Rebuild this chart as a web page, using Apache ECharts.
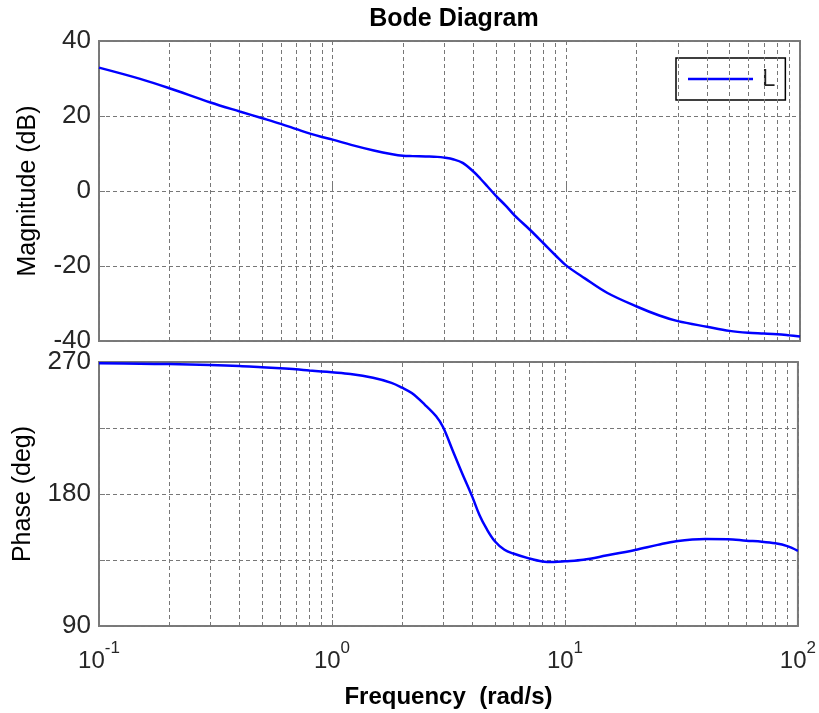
<!DOCTYPE html>
<html>
<head>
<meta charset="utf-8">
<title>Bode Diagram</title>
<script src="https://cdn.jsdelivr.net/npm/echarts@6/dist/echarts.min.js"></script>
<style>
  html, body { margin: 0; padding: 0; background: #ffffff; }
  #chart { width: 819px; height: 713px; }
</style>
</head>
<body>
<div id="chart"></div>
<script>
// Frequency samples (rad/s) shared by both traces
const freq = [0.1, 0.15, 0.2, 0.3, 0.4, 0.5, 0.6, 0.7, 0.8, 0.9,
              1, 1.2, 1.5, 1.8, 2, 2.2, 2.5, 2.8, 3, 3.3, 3.6,
              4, 4.3, 4.6, 5, 5.5, 6, 7, 8, 9,
              10, 12, 15, 20, 25, 30, 40, 50, 60, 70, 80, 90, 100];

// Open-loop magnitude L(jw) in dB
const magnitudeDb = [32.9, 29.9, 27.4, 23.6, 21.2, 19.4, 17.9, 16.5, 15.3, 14.4,
                     13.7, 12.3, 10.8, 9.8, 9.4, 9.3, 9.2, 9.1, 8.9, 8.4, 7.5,
                     5.2, 3.2, 1.2, -1.3, -3.9, -6.5, -10.4, -14.0, -17.2,
                     -19.9, -23.3, -27.2, -30.8, -33.2, -34.7, -36.2, -37.3, -37.8, -38.0, -38.2, -38.5, -38.8];

// Open-loop phase L(jw) in degrees
const phaseDeg = [269.1, 268.8, 268.6, 268.0, 267.3, 266.4, 265.7, 265.0, 264.2, 263.6,
                  263.0, 261.8, 259.2, 255.8, 252.5, 248.8, 241.0, 233.0, 225.5, 209.5, 195.0,
                  178.2, 165.5, 156.5, 147.8, 142.0, 139.4, 136.1, 134.0, 133.6,
                  134.1, 135.2, 138.0, 141.8, 145.3, 147.8, 149.3, 149.2, 148.2, 147.5, 146.4, 144.5, 141.3];

// Intermediate log-decade grid positions (2..9 in each decade)
const minorFreqLines = [0.2, 0.3, 0.4, 0.5, 0.6, 0.7, 0.8, 0.9,
                        2, 3, 4, 5, 6, 7, 8, 9,
                        20, 30, 40, 50, 60, 70, 80, 90];

// Axis ranges and tick steps
const freqRange = [0.1, 100];
const magRange = [-40, 40];
const magStep = 20;
const phaseRange = [90, 270];
const phaseGridStep = 45;
const phaseLabelStep = 90;

const FONT = 'Liberation Sans, Arial, sans-serif';
const TICK_COLOR = '#262626';
const GRID_LINE = { color: '#777777', width: 1, type: [4, 3] };
const FRAME = '#7a7a7a';

const gridLines = (gridIdx) => ({
  name: 'grid' + gridIdx,
  type: 'line',
  xAxisIndex: gridIdx,
  yAxisIndex: gridIdx,
  data: [],
  silent: true,
  z: 1,
  markLine: {
    silent: true,
    symbol: 'none',
    label: { show: false },
    lineStyle: GRID_LINE,
    animation: false,
    data: minorFreqLines.map(f => ({ xAxis: f }))
  }
});

const xAxisBase = (gridIdx, withLabels) => ({
  type: 'log',
  logBase: 10,
  gridIndex: gridIdx,
  min: freqRange[0],
  max: freqRange[1],
  axisLine: { show: false },
  axisTick: { show: true, inside: true, length: 6, lineStyle: { color: FRAME, width: 1 } },
  splitLine: { show: true, lineStyle: GRID_LINE },
  axisLabel: withLabels ? {
    show: true,
    margin: 14,
    formatter: v => '{b|10}{s|' + Math.round(Math.log10(v)) + '}',
    rich: {
      b: { fontFamily: FONT, fontSize: 24, color: TICK_COLOR, verticalAlign: 'bottom' },
      s: { fontFamily: FONT, fontSize: 17, color: TICK_COLOR, verticalAlign: 'top', padding: [0, 0, 16, 0] }
    }
  } : { show: false },
  name: withLabels ? 'Frequency  (rad/s)' : '',
  nameLocation: 'middle',
  nameGap: 59,
  nameTextStyle: { fontFamily: FONT, fontSize: 24, fontWeight: 'bold', color: '#000' }
});

const traceStyle = { color: '#0000ff', width: 2.5 };

const chart = echarts.init(document.getElementById('chart'), null, { renderer: 'canvas' });

chart.setOption({
  animation: false,
  backgroundColor: '#ffffff',
  title: {
    text: 'Bode Diagram',
    left: 449,
    top: 2,
    textAlign: 'center',
    textStyle: { fontFamily: FONT, fontSize: 25, fontWeight: 'bold', color: '#000' }
  },
  legend: {
    data: ['L'],
    left: 676,
    top: 58,
    icon: 'rect',
    padding: [8, 10, 8, 12],
    itemWidth: 65,
    itemHeight: 2.5,
    backgroundColor: '#ffffff',
    borderColor: '#000000',
    borderWidth: 1.5,
    borderRadius: 0,
    textStyle: { fontFamily: FONT, fontSize: 24, color: '#222', lineHeight: 26, padding: [0, 0, 0, 4] }
  },
  grid: [
    { left: 99, right: 19, top: 41, height: 300, show: true, borderColor: FRAME, borderWidth: 2, backgroundColor: 'transparent' },
    { left: 99, right: 19, top: 362, height: 264, show: true, borderColor: FRAME, borderWidth: 2, backgroundColor: 'transparent' }
  ],
  xAxis: [xAxisBase(0, false), xAxisBase(1, true)],
  yAxis: [
    {
      type: 'value',
      gridIndex: 0,
      min: magRange[0],
      max: magRange[1],
      interval: magStep,
      axisLine: { show: false },
      axisTick: { show: true, inside: true, length: 6, lineStyle: { color: FRAME } },
      splitLine: { show: true, lineStyle: GRID_LINE },
      axisLabel: { fontFamily: FONT, fontSize: 26, color: TICK_COLOR, margin: 8 },
      name: 'Magnitude (dB)',
      nameLocation: 'middle',
      nameGap: 58,
      nameTextStyle: { fontFamily: FONT, fontSize: 25, color: '#000' }
    },
    {
      type: 'value',
      gridIndex: 1,
      min: phaseRange[0],
      max: phaseRange[1],
      interval: phaseGridStep,
      axisLine: { show: false },
      axisTick: { show: true, inside: true, length: 6, lineStyle: { color: FRAME } },
      splitLine: { show: true, lineStyle: GRID_LINE },
      axisLabel: {
        fontFamily: FONT, fontSize: 26, color: TICK_COLOR, margin: 8,
        formatter: v => (v % phaseLabelStep === 0 ? String(v) : '')
      },
      name: 'Phase (deg)',
      nameLocation: 'middle',
      nameGap: 63,
      nameTextStyle: { fontFamily: FONT, fontSize: 25, color: '#000' }
    }
  ],
  series: [
    gridLines(0),
    gridLines(1),
    {
      name: 'L',
      type: 'line',
      xAxisIndex: 0,
      yAxisIndex: 0,
      data: freq.map((f, i) => [f, magnitudeDb[i]]),
      symbol: 'none',
      smooth: 0.35,
      z: 5,
      lineStyle: traceStyle,
      itemStyle: { color: '#0000ff' }
    },
    {
      name: 'L',
      type: 'line',
      xAxisIndex: 1,
      yAxisIndex: 1,
      data: freq.map((f, i) => [f, phaseDeg[i]]),
      symbol: 'none',
      smooth: 0.35,
      z: 5,
      lineStyle: traceStyle,
      itemStyle: { color: '#0000ff' }
    }
  ]
});
</script>
</body>
</html>
